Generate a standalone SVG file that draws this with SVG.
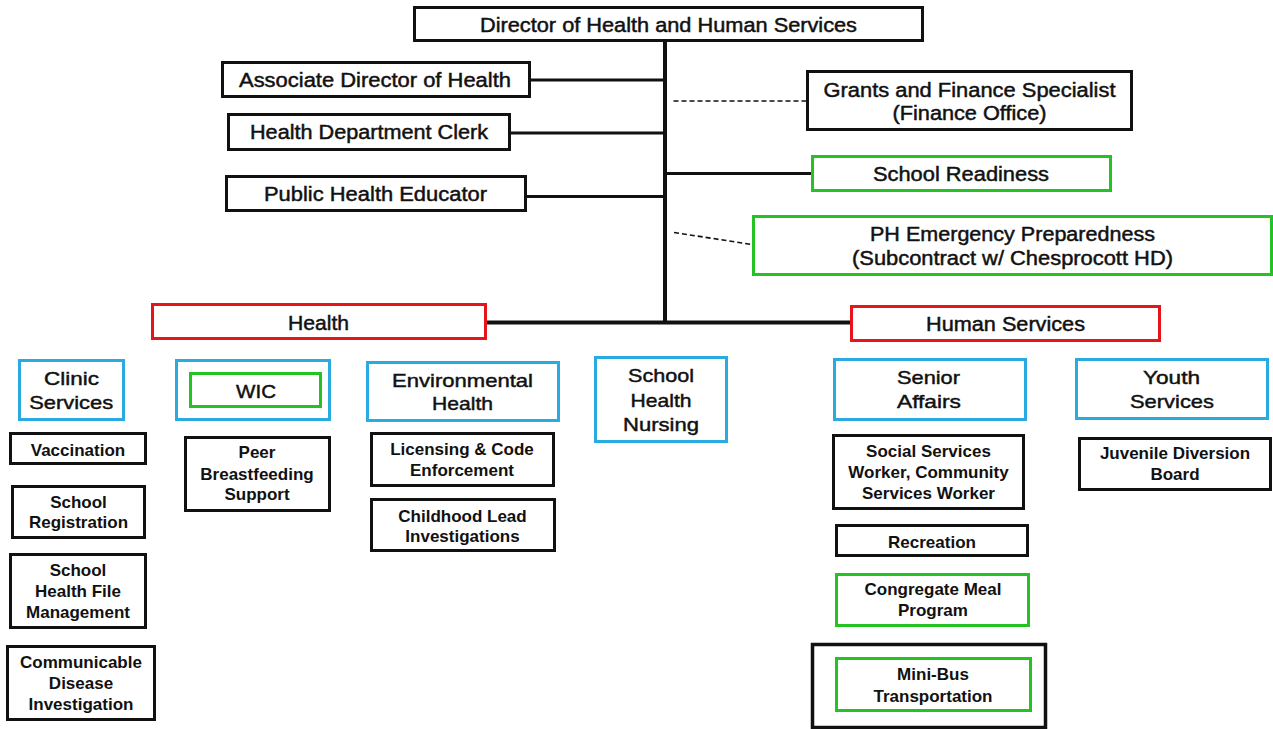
<svg xmlns="http://www.w3.org/2000/svg" width="1273" height="729" viewBox="0 0 1273 729">
<style>
rect{fill:#fff;stroke-width:3}
.k{stroke:#111}
.r{stroke:#e8141c}
.g{stroke:#22c322}
.b{stroke:#29abe2}
text{font-family:"Liberation Sans",Arial,sans-serif;fill:#111;text-anchor:middle}
.t{font-size:19.5px;stroke:#111;stroke-width:0.45}
.s{font-size:19px;stroke:#111;stroke-width:0.45}
.w{font-size:17px;font-weight:bold}
.c{stroke:#111;fill:none}
.d{stroke:#111;fill:none;stroke-width:1.6;stroke-dasharray:5 3}
</style>
<rect width="1273" height="729" style="fill:#fff;stroke:none"/>
<g id="connectors">
<line class="c" x1="665" y1="41" x2="665" y2="324" stroke-width="4"/>
<line class="c" x1="487" y1="322.5" x2="851" y2="322.5" stroke-width="4"/>
<line class="c" x1="530" y1="80" x2="665" y2="80" stroke-width="3"/>
<line class="c" x1="510" y1="133" x2="665" y2="133" stroke-width="3"/>
<line class="c" x1="525" y1="196.5" x2="665" y2="196.5" stroke-width="3"/>
<line class="c" x1="665" y1="173.5" x2="811" y2="173.5" stroke-width="3"/>
<line class="d" x1="673.5" y1="101" x2="806" y2="101"/>
<line class="d" x1="674" y1="232.5" x2="752" y2="244.5"/>
</g>
<g id="director"><rect class="k" x="414.5" y="7.5" width="508" height="33"/><text class="t" x="668.5" y="32" textLength="377" lengthAdjust="spacingAndGlyphs">Director of Health and Human Services</text></g>
<g id="associate"><rect class="k" x="222.5" y="62.5" width="307" height="34"/><text class="t" x="375" y="87" textLength="272" lengthAdjust="spacingAndGlyphs">Associate Director of Health</text></g>
<g id="clerk"><rect class="k" x="228.5" y="114.5" width="281" height="35"/><text class="t" x="369" y="139" textLength="238" lengthAdjust="spacingAndGlyphs">Health Department Clerk</text></g>
<g id="educator"><rect class="k" x="226.5" y="176.5" width="299" height="34"/><text class="t" x="375.5" y="201" textLength="223" lengthAdjust="spacingAndGlyphs">Public Health Educator</text></g>
<g id="grants"><rect class="k" x="807.5" y="71.5" width="324" height="58"/><text class="t" x="969.5" y="97" textLength="292" lengthAdjust="spacingAndGlyphs">Grants and Finance Specialist</text><text class="t" x="969.5" y="120" textLength="154" lengthAdjust="spacingAndGlyphs">(Finance Office)</text></g>
<g id="school-readiness"><rect class="g" x="812.5" y="156.5" width="298" height="34"/><text class="t" x="961" y="181" textLength="176" lengthAdjust="spacingAndGlyphs">School Readiness</text></g>
<g id="ph-emergency"><rect class="g" x="753.5" y="216.5" width="518" height="58"/><text class="t" x="1012.5" y="241" textLength="285" lengthAdjust="spacingAndGlyphs">PH Emergency Preparedness</text><text class="t" x="1012.5" y="265" textLength="321" lengthAdjust="spacingAndGlyphs">(Subcontract w/ Chesprocott HD)</text></g>
<g id="health"><rect class="r" x="152.5" y="304.5" width="333" height="34"/><text class="t" x="318.5" y="330" textLength="61" lengthAdjust="spacingAndGlyphs">Health</text></g>
<g id="human-services"><rect class="r" x="851.5" y="306.5" width="308" height="34"/><text class="t" x="1005.5" y="331" textLength="159" lengthAdjust="spacingAndGlyphs">Human Services</text></g>
<g id="clinic-services"><rect class="b" x="19.5" y="360.5" width="104" height="59"/><text class="s" x="71.4" y="385" textLength="55" lengthAdjust="spacingAndGlyphs">Clinic</text><text class="s" x="71.2" y="409" textLength="84" lengthAdjust="spacingAndGlyphs">Services</text></g>
<g id="wic"><rect class="b" x="176.5" y="360.5" width="153" height="59"/><rect class="g" x="190.5" y="373.5" width="130" height="33"/><text class="s" x="256" y="398" textLength="40" lengthAdjust="spacingAndGlyphs">WIC</text></g>
<g id="environmental-health"><rect class="b" x="367.5" y="362.5" width="191" height="58"/><text class="s" x="462.5" y="387" textLength="141" lengthAdjust="spacingAndGlyphs">Environmental</text><text class="s" x="462.5" y="410" textLength="61" lengthAdjust="spacingAndGlyphs">Health</text></g>
<g id="school-health-nursing"><rect class="b" x="595.5" y="357.5" width="131" height="84"/><text class="s" x="661" y="382" textLength="66" lengthAdjust="spacingAndGlyphs">School</text><text class="s" x="661" y="407" textLength="61" lengthAdjust="spacingAndGlyphs">Health</text><text class="s" x="661" y="431" textLength="76" lengthAdjust="spacingAndGlyphs">Nursing</text></g>
<g id="senior-affairs"><rect class="b" x="834.5" y="359.5" width="191" height="60"/><text class="s" x="928.5" y="384" textLength="63" lengthAdjust="spacingAndGlyphs">Senior</text><text class="s" x="929" y="408" textLength="64" lengthAdjust="spacingAndGlyphs">Affairs</text></g>
<g id="youth-services"><rect class="b" x="1076.5" y="359.5" width="191" height="59"/><text class="s" x="1171.5" y="384" textLength="57" lengthAdjust="spacingAndGlyphs">Youth</text><text class="s" x="1172" y="408" textLength="84" lengthAdjust="spacingAndGlyphs">Services</text></g>
<g id="vaccination"><rect class="k" x="10.5" y="433.5" width="135" height="30"/><text class="w" x="78" y="456">Vaccination</text></g>
<g id="school-registration"><rect class="k" x="12.5" y="486.5" width="132" height="51"/><text class="w" x="78.5" y="508">School</text><text class="w" x="78.5" y="528">Registration</text></g>
<g id="school-health-file"><rect class="k" x="10.5" y="554.5" width="135" height="73"/><text class="w" x="78" y="576">School</text><text class="w" x="78" y="597">Health File</text><text class="w" x="78" y="618">Management</text></g>
<g id="communicable-disease"><rect class="k" x="7.5" y="646.5" width="147" height="73"/><text class="w" x="81" y="668">Communicable</text><text class="w" x="81" y="689">Disease</text><text class="w" x="81" y="710">Investigation</text></g>
<g id="peer-breastfeeding"><rect class="k" x="185.5" y="437.5" width="144" height="73"/><text class="w" x="257" y="458">Peer</text><text class="w" x="257" y="480">Breastfeeding</text><text class="w" x="257" y="500">Support</text></g>
<g id="licensing"><rect class="k" x="371.5" y="433.5" width="182" height="52"/><text class="w" x="462" y="455">Licensing &amp; Code</text><text class="w" x="462" y="476">Enforcement</text></g>
<g id="childhood-lead"><rect class="k" x="371.5" y="499.5" width="183" height="51"/><text class="w" x="462.5" y="522">Childhood Lead</text><text class="w" x="462.5" y="542">Investigations</text></g>
<g id="social-services"><rect class="k" x="833.5" y="435.5" width="190" height="73"/><text class="w" x="928.5" y="457">Social Services</text><text class="w" x="928.5" y="478">Worker, Community</text><text class="w" x="928.5" y="499">Services Worker</text></g>
<g id="juvenile-diversion"><rect class="k" x="1079.5" y="438.5" width="191" height="51"/><text class="w" x="1175" y="459">Juvenile Diversion</text><text class="w" x="1175" y="480">Board</text></g>
<g id="recreation"><rect class="k" x="836.5" y="525.5" width="191" height="30"/><text class="w" x="932" y="548">Recreation</text></g>
<g id="congregate-meal"><rect class="g" x="836.5" y="574.5" width="192" height="51"/><text class="w" x="933" y="595">Congregate Meal</text><text class="w" x="933" y="616">Program</text></g>
<g id="mini-bus"><rect class="k" x="812.5" y="644.5" width="233" height="83" style="stroke-width:3.5"/><rect class="g" x="836.5" y="658.5" width="194" height="52"/><text class="w" x="933" y="680">Mini-Bus</text><text class="w" x="933" y="702">Transportation</text></g>
</svg>
